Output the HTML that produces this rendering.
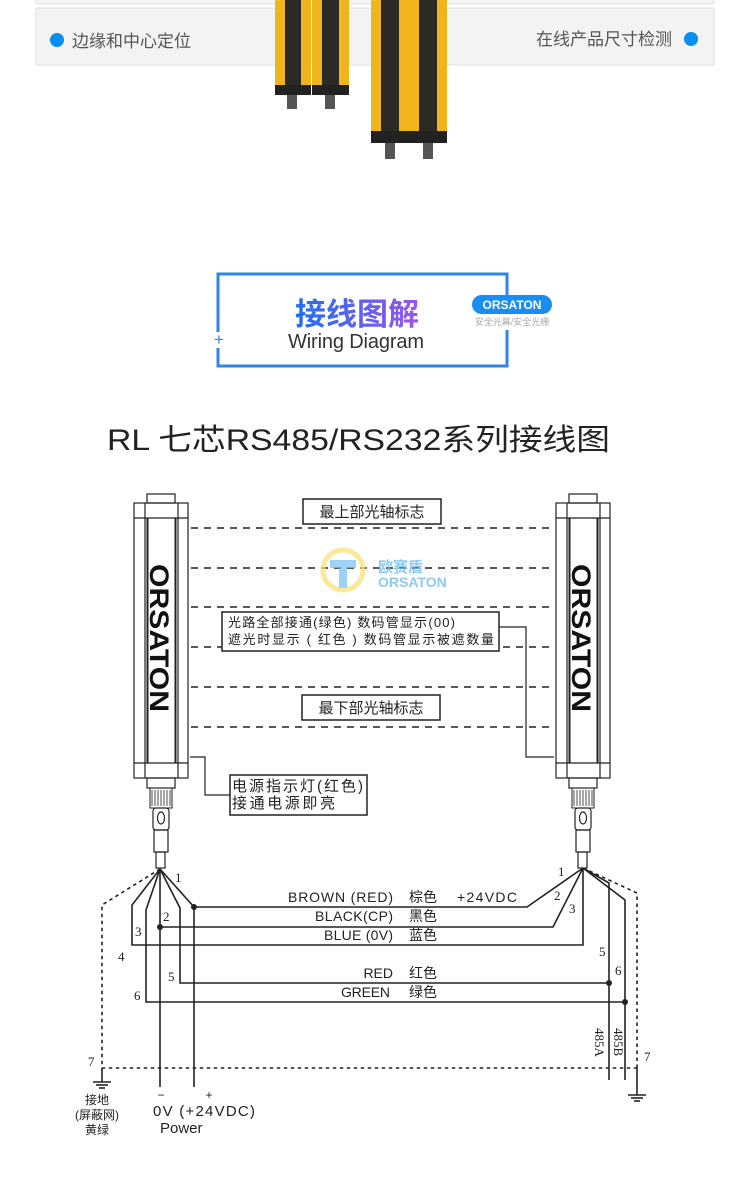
<!DOCTYPE html>
<html><head><meta charset="utf-8"><style>
html,body{margin:0;padding:0;background:#fff;}
svg{display:block;}
text{font-family:"Liberation Sans","Noto Sans CJK SC",sans-serif;}
.s{font-family:"Liberation Serif","Noto Serif CJK SC",serif;font-size:13px;fill:#222;}
</style></head><body>
<svg width="750" height="1177" viewBox="0 0 750 1177" xmlns="http://www.w3.org/2000/svg">
<defs>
<linearGradient id="tg" x1="0" x2="1"><stop offset="0" stop-color="#1f6ff0"/><stop offset="1" stop-color="#9b55ee"/></linearGradient>
</defs>
<rect x="36" y="-10" width="678" height="14" fill="#f3f3f3" stroke="#e2e2e2"/>
<rect x="36" y="8" width="678" height="57" fill="#f3f3f3" stroke="#e2e2e2"/>
<circle cx="57" cy="40" r="7" fill="#0a8ff0"/>
<text x="72" y="47" font-size="17" fill="#555">边缘和中心定位</text>
<text x="672" y="45" font-size="17" fill="#555" text-anchor="end">在线产品尺寸检测</text>
<circle cx="691" cy="39" r="7" fill="#0a8ff0"/>
<g>
<rect x="275" y="0" width="36" height="87" fill="#f0b41c"/><rect x="285" y="0" width="16" height="87" fill="#2c2a26"/>
<rect x="312" y="0" width="37" height="87" fill="#f0b41c"/><rect x="322" y="0" width="17" height="87" fill="#2c2a26"/>
<rect x="275" y="85" width="36" height="10" fill="#222"/><rect x="312" y="85" width="37" height="10" fill="#222"/>
<rect x="287" y="95" width="10" height="14" fill="#555"/><rect x="325" y="95" width="10" height="14" fill="#555"/>
<rect x="371" y="0" width="38" height="133" fill="#f0b41c"/><rect x="381" y="0" width="18" height="133" fill="#2c2a26"/>
<rect x="409" y="0" width="38" height="133" fill="#f0b41c"/><rect x="419" y="0" width="18" height="133" fill="#2c2a26"/>
<rect x="371" y="131" width="38" height="12" fill="#222"/><rect x="409" y="131" width="38" height="12" fill="#222"/>
<rect x="385" y="143" width="10" height="16" fill="#555"/><rect x="423" y="143" width="10" height="16" fill="#555"/>
</g>
<path d="M218 332 V274 H507 V300 M507 330 V366 H218 V348" fill="none" stroke="#2f86e6" stroke-width="3"/>
<text x="219" y="345" font-size="17" fill="#2f86e6" text-anchor="middle">+</text>
<text x="357" y="325" font-size="31" font-weight="bold" fill="url(#tg)" text-anchor="middle" font-family="Noto Sans CJK SC,sans-serif">接线图解</text>
<text x="356" y="348" font-size="20" fill="#333" text-anchor="middle" textLength="136">Wiring Diagram</text>
<rect x="472" y="295" width="80" height="19" rx="9.5" fill="#1a8ef0"/>
<text x="512" y="309" font-size="12" font-weight="bold" fill="#fff" text-anchor="middle">ORSATON</text>
<text x="512" y="325" font-size="9" fill="#aaa" text-anchor="middle">安全光幕/安全光栅</text>
<text x="107" y="450" font-size="30" fill="#222" textLength="503" lengthAdjust="spacingAndGlyphs">RL 七芯RS485/RS232系列接线图</text>

<g fill="none" stroke="#222" stroke-width="1.2">
<rect x="147" y="494" width="28" height="9"/>
<rect x="134" y="503" width="54" height="275"/>
<line x1="134" y1="518" x2="188" y2="518"/><line x1="134" y1="763" x2="188" y2="763"/>
<line x1="145" y1="503" x2="145" y2="778"/><line x1="178" y1="503" x2="178" y2="778"/>
<line x1="147.5" y1="518" x2="147.5" y2="763" stroke-width="2"/><line x1="175.5" y1="518" x2="175.5" y2="763" stroke-width="2"/>
<rect x="147" y="778" width="28" height="10"/>
<rect x="150" y="788" width="22" height="20" stroke-width="1"/>
<rect x="153" y="808" width="16" height="22" rx="3"/>
<ellipse cx="161" cy="818" rx="3.5" ry="6"/>
<rect x="154" y="830" width="14" height="22"/>
<rect x="156" y="852" width="9" height="16"/>
<rect x="569" y="494" width="28" height="9"/>
<rect x="556" y="503" width="54" height="275"/>
<line x1="556" y1="518" x2="610" y2="518"/><line x1="556" y1="763" x2="610" y2="763"/>
<line x1="567" y1="503" x2="567" y2="778"/><line x1="600" y1="503" x2="600" y2="778"/>
<line x1="569.5" y1="518" x2="569.5" y2="763" stroke-width="2"/><line x1="597.5" y1="518" x2="597.5" y2="763" stroke-width="2"/>
<rect x="569" y="778" width="28" height="10"/>
<rect x="572" y="788" width="22" height="20" stroke-width="1"/>
<rect x="575" y="808" width="16" height="22" rx="3"/>
<ellipse cx="583" cy="818" rx="3.5" ry="6"/>
<rect x="576" y="830" width="14" height="22"/>
<rect x="578" y="852" width="9" height="16"/>
</g>
<g stroke="#222" stroke-width="0.8">
<path d="M152 790v16M155 790v16M158 790v16M161 790v16M164 790v16M167 790v16M170 790v16"/>
<path d="M574 790v16M577 790v16M580 790v16M583 790v16M586 790v16M589 790v16M592 790v16"/>
</g>
<text transform="translate(150,564) rotate(90)" font-size="27" font-weight="bold" fill="#111" textLength="148" lengthAdjust="spacingAndGlyphs">ORSATON</text>
<text transform="translate(572,564) rotate(90)" font-size="27" font-weight="bold" fill="#111" textLength="148" lengthAdjust="spacingAndGlyphs">ORSATON</text>

<g stroke="#222" stroke-width="1.5" stroke-dasharray="7,6">
<line x1="191" y1="528" x2="553" y2="528"/>
<line x1="191" y1="568" x2="553" y2="568"/>
<line x1="191" y1="607" x2="553" y2="607"/>
<line x1="191" y1="647" x2="553" y2="647"/>
<line x1="191" y1="687" x2="553" y2="687"/>
<line x1="191" y1="727" x2="553" y2="727"/>
</g>
<g opacity="0.75">
<circle cx="343" cy="570" r="20" fill="none" stroke="#f7e27a" stroke-width="5"/>
<path d="M330 560h26v8h-9v20h-8v-20h-9z" fill="#7cc4f0"/>
<text x="378" y="572" font-size="15" font-weight="bold" fill="#6ab8ee">欧赛盾</text>
<text x="378" y="587" font-size="14" font-weight="bold" fill="#6ab8ee">ORSATON</text>
</g>
<g fill="#fff" stroke="#222" stroke-width="1.5">
<rect x="303" y="499" width="138" height="25"/>
<rect x="222" y="612" width="277" height="39"/>
<rect x="302" y="695" width="138" height="25"/>
<rect x="230" y="775" width="137" height="40"/>
</g>
<g font-size="15" fill="#222">
<text x="372" y="517" text-anchor="middle">最上部光轴标志</text>
<text x="371" y="713" text-anchor="middle">最下部光轴标志</text>
<text x="232" y="791" textLength="131">电源指示灯(红色)</text>
<text x="232" y="808" textLength="103">接通电源即亮</text>
</g>
<text x="228" y="627" font-size="13" fill="#222" textLength="227">光路全部接通(绿色)   数码管显示(00)</text>
<text x="228" y="644" font-size="13" fill="#222" textLength="266">遮光时显示 ( 红色 ) 数码管显示被遮数量</text>
<g fill="none" stroke="#222" stroke-width="1.2">
<polyline points="190,757 205,757 205,795 230,795"/>
<polyline points="499,627 526,627 526,757 554,757"/>
</g>

<g fill="none" stroke="#222" stroke-width="1.6" stroke-dasharray="3.5,3.5">
<polyline points="160,869 102,905 102,1068 637,1068"/>
<polyline points="583,868 637,893 637,1068"/>
</g>
<g fill="none" stroke="#222" stroke-width="1.6">
<polyline points="160,869 132,905 132,945 583,945 583,868"/>
<polyline points="160,869 146,910 146,1002 625,1002"/>
<polyline points="160,869 160,1087"/>
<polyline points="160,927 553,927 583,868"/>
<polyline points="160,869 180,908 180,983 609,983"/>
<polyline points="160,869 194,907 527,907 583,868"/>
<polyline points="194,907 194,1087"/>
<polyline points="583,868 609,883 609,1080"/>
<polyline points="583,868 625,900 625,1080"/>
<line x1="102" y1="1068" x2="102" y2="1082"/>
<line x1="93" y1="1082" x2="111" y2="1082"/><line x1="96" y1="1085" x2="108" y2="1085"/><line x1="99" y1="1088" x2="105" y2="1088"/>
<line x1="637" y1="1068" x2="637" y2="1095"/>
<line x1="628" y1="1095" x2="646" y2="1095"/><line x1="631" y1="1098" x2="643" y2="1098"/><line x1="634" y1="1101" x2="640" y2="1101"/>
</g>
<g fill="#222">
<circle cx="194" cy="907" r="3"/><circle cx="160" cy="927" r="3"/>
<circle cx="609" cy="983" r="3"/><circle cx="625" cy="1002" r="3"/>
</g>
<g class="s">
<text class="s" x="175" y="882">1</text><text class="s" x="163" y="921">2</text>
<text class="s" x="135" y="936">3</text><text class="s" x="118" y="961">4</text>
<text class="s" x="168" y="981">5</text><text class="s" x="134" y="1000">6</text>
<text class="s" x="88" y="1066">7</text>
<text class="s" x="558" y="876">1</text><text class="s" x="554" y="900">2</text>
<text class="s" x="569" y="913">3</text><text class="s" x="599" y="956">5</text>
<text class="s" x="615" y="975">6</text><text class="s" x="644" y="1061">7</text>
</g>
<text class="s" transform="translate(595,1028) rotate(90)" font-size="11">485A</text>
<text class="s" transform="translate(614,1028) rotate(90)" font-size="11">485B</text>
<g font-size="14" fill="#222">
<text x="288" y="902" textLength="105">BROWN  (RED)</text><text x="409" y="902">棕色</text><text x="457" y="902" textLength="60">+24VDC</text>
<text x="315" y="921" textLength="78">BLACK(CP)</text><text x="409" y="921">黑色</text>
<text x="324" y="940" textLength="69">BLUE (0V)</text><text x="409" y="940">蓝色</text>
<text x="393" y="978" text-anchor="end">RED</text><text x="409" y="978">红色</text>
<text x="341" y="997" textLength="49">GREEN</text><text x="409" y="997">绿色</text>
</g>
<g font-size="12" fill="#222" text-anchor="middle">
<text x="97" y="1104">接地</text><text x="97" y="1119">(屏蔽网)</text><text x="97" y="1134">黄绿</text>
</g>
<text x="161" y="1099" font-size="12" fill="#222" text-anchor="middle">−</text>
<text x="209" y="1099" font-size="12" fill="#222" text-anchor="middle">+</text>
<text x="153" y="1116" font-size="15" fill="#222" textLength="102">0V  (+24VDC)</text>
<text x="160" y="1133" font-size="15" fill="#222">Power</text>
</svg>
</body></html>
